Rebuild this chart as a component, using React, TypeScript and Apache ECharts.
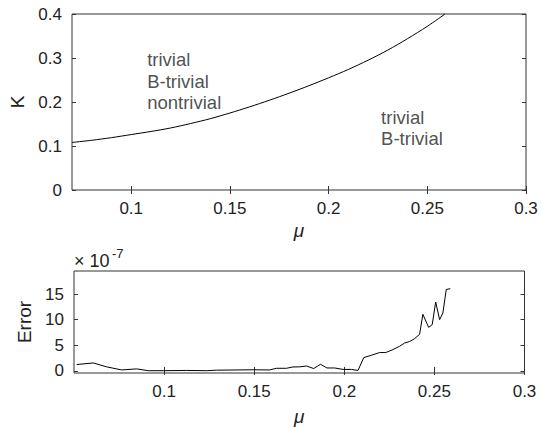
import React, { useEffect, useRef } from "react";
import * as echarts from "echarts";

// Top panel: boundary curve K(mu)
const K_MU = [0.07, 0.08, 0.09, 0.1, 0.11, 0.12, 0.13, 0.14, 0.15, 0.16, 0.17, 0.18, 0.19, 0.2, 0.21, 0.22, 0.23, 0.24, 0.25, 0.259];
const K_VAL = [0.108, 0.113, 0.119, 0.126, 0.133, 0.141, 0.151, 0.162, 0.175, 0.189, 0.204, 0.22, 0.237, 0.255, 0.274, 0.295, 0.318, 0.344, 0.372, 0.4];

// Region annotations (data coordinates)
const ANNOT_MU = [0.1081, 0.2266];
const ANNOT_K = [0.2466, 0.141];
const ANNOT_TEXT = ["trivial\nB-trivial\nnontrivial", "trivial\nB-trivial"];

// Bottom panel: error (x 1e-7)
const ERR_MU = [0.0515, 0.0607, 0.0681, 0.0764, 0.0848, 0.0912, 0.0995, 0.1125, 0.1236, 0.129, 0.1494, 0.1586, 0.1623, 0.1679, 0.1715, 0.1753, 0.179, 0.183, 0.1868, 0.1904, 0.1947, 0.1993, 0.204, 0.2076, 0.2108, 0.215, 0.2196, 0.223, 0.227, 0.2307, 0.2335, 0.2362, 0.239, 0.2418, 0.2436, 0.2468, 0.2488, 0.2507, 0.2529, 0.2547, 0.2566, 0.2588];
const ERR_VAL = [1.25, 1.56, 0.8, 0.2, 0.4, 0.05, 0.05, 0.1, 0.05, 0.15, 0.23, 0.2, 0.52, 0.52, 0.78, 0.8, 0.97, 0.47, 1.3, 0.58, 0.58, 0.3, 0.3, 0.1, 2.6, 3.06, 3.59, 3.59, 4.17, 4.81, 5.46, 5.73, 6.3, 7.15, 11.05, 8.5, 9.05, 13.45, 10.0, 11.3, 15.9, 16.05];

// Ticks
const TOP_X_TICKS = [0.1, 0.15, 0.2, 0.25, 0.3];
const BOT_X_TICKS = [0.1, 0.15, 0.2, 0.25, 0.3];
const BOT_Y_TICKS = [0, 5, 10, 15];

const FONT = "Liberation Sans";
const AX = "#333";
const TICK_FS = 17;

export default function App() {
  const ref = useRef<HTMLDivElement>(null);
  useEffect(() => {
    if (!ref.current) return;
    const chart = echarts.init(ref.current, undefined, { renderer: "svg" });

    const tickInside = { show: true, inside: true, length: 4, lineStyle: { color: AX, width: 1 } };
    const hiddenLine = { show: false };
    const lbl = { fontFamily: FONT, fontSize: TICK_FS, color: "#222" };

    const option: any = {
      animation: false,
      backgroundColor: "#fff",
      grid: [
        { left: 72, right: 16, top: 14, height: 176, show: true, borderColor: AX, borderWidth: 1, backgroundColor: "transparent" },
        { left: 74, right: 17.5, top: 271, height: 102, show: true, borderColor: AX, borderWidth: 1, backgroundColor: "transparent" },
      ],
      xAxis: [
        {
          type: "value", gridIndex: 0, min: 0.07, max: 0.3, position: "bottom",
          axisLine: hiddenLine, splitLine: { show: false },
          axisTick: { ...tickInside, customValues: TOP_X_TICKS },
          axisLabel: { ...lbl, margin: 10, customValues: TOP_X_TICKS, formatter: (v: number) => String(+v.toFixed(2)) },
          name: "μ", nameLocation: "middle", nameGap: 31,
          nameTextStyle: { fontFamily: FONT, fontSize: 19, fontStyle: "italic", color: "#222" },
        },
        {
          type: "value", gridIndex: 0, min: 0.07, max: 0.3, position: "top",
          axisLine: hiddenLine, splitLine: { show: false },
          axisTick: { ...tickInside, customValues: TOP_X_TICKS },
          axisLabel: { show: false },
        },
        {
          type: "value", gridIndex: 1, min: 0.05, max: 0.3, position: "bottom",
          axisLine: hiddenLine, splitLine: { show: false },
          axisTick: { ...tickInside, customValues: BOT_X_TICKS },
          axisLabel: { ...lbl, margin: 10, customValues: BOT_X_TICKS, formatter: (v: number) => String(+v.toFixed(2)) },
          name: "μ", nameLocation: "middle", nameGap: 34,
          nameTextStyle: { fontFamily: FONT, fontSize: 19, fontStyle: "italic", color: "#222" },
        },
        {
          type: "value", gridIndex: 1, min: 0.05, max: 0.3, position: "top",
          axisLine: hiddenLine, splitLine: { show: false },
          axisTick: { ...tickInside, customValues: BOT_X_TICKS },
          axisLabel: { show: false },
        },
      ],
      yAxis: [
        {
          type: "value", gridIndex: 0, min: 0, max: 0.4, interval: 0.1, position: "left",
          axisLine: hiddenLine, splitLine: { show: false },
          axisTick: tickInside,
          axisLabel: { ...lbl, margin: 10, formatter: (v: number) => String(+v.toFixed(1)) },
          name: "K", nameLocation: "middle", nameGap: 45,
          nameTextStyle: { fontFamily: FONT, fontSize: 19, color: "#222" },
        },
        {
          type: "value", gridIndex: 0, min: 0, max: 0.4, interval: 0.1, position: "right",
          axisLine: hiddenLine, splitLine: { show: false },
          axisTick: tickInside, axisLabel: { show: false },
        },
        {
          type: "value", gridIndex: 1, min: -0.4, max: 19.5, position: "left",
          axisLine: hiddenLine, splitLine: { show: false },
          axisTick: { ...tickInside, customValues: BOT_Y_TICKS },
          axisLabel: { ...lbl, margin: 10, customValues: BOT_Y_TICKS },
          name: "Error", nameLocation: "middle", nameGap: 37,
          nameTextStyle: { fontFamily: FONT, fontSize: 19, color: "#222" },
        },
        {
          type: "value", gridIndex: 1, min: -0.4, max: 19.5, position: "right",
          axisLine: hiddenLine, splitLine: { show: false },
          axisTick: { ...tickInside, customValues: BOT_Y_TICKS }, axisLabel: { show: false },
        },
      ],
      series: [
        {
          type: "line", xAxisIndex: 0, yAxisIndex: 0,
          data: K_MU.map((m, i) => [m, K_VAL[i]]),
          showSymbol: false, smooth: 0.3, lineStyle: { color: "#000", width: 1 }, silent: true,
        },
        {
          type: "scatter", xAxisIndex: 0, yAxisIndex: 0, symbolSize: 0, silent: true,
          data: ANNOT_MU.map((m, i) => ({ value: [m, ANNOT_K[i]], name: ANNOT_TEXT[i] })),
          label: {
            show: true, position: "right", distance: 0, formatter: (p: any) => p.name,
            fontFamily: FONT, fontSize: 18.5, lineHeight: 21.5, color: "#222", align: "left",
          },
        },
        {
          type: "line", xAxisIndex: 2, yAxisIndex: 2,
          data: ERR_MU.map((m, i) => [m, ERR_VAL[i]]),
          showSymbol: false, lineStyle: { color: "#000", width: 1 }, silent: true,
        },
      ],
      graphic: [
        { type: "text", left: 74, top: 252, style: { text: "× 10", fontFamily: FONT, fontSize: 18, fill: "#222" } },
        { type: "text", left: 112, top: 247, style: { text: "-7", fontFamily: FONT, fontSize: 13, fill: "#222" } },
      ],
    };
    chart.setOption(option);
    return () => chart.dispose();
  }, []);
  return <div ref={ref} style={{ position: "fixed", left: 0, top: 0, width: 542, height: 427, background: "#fff" }} />;
}
